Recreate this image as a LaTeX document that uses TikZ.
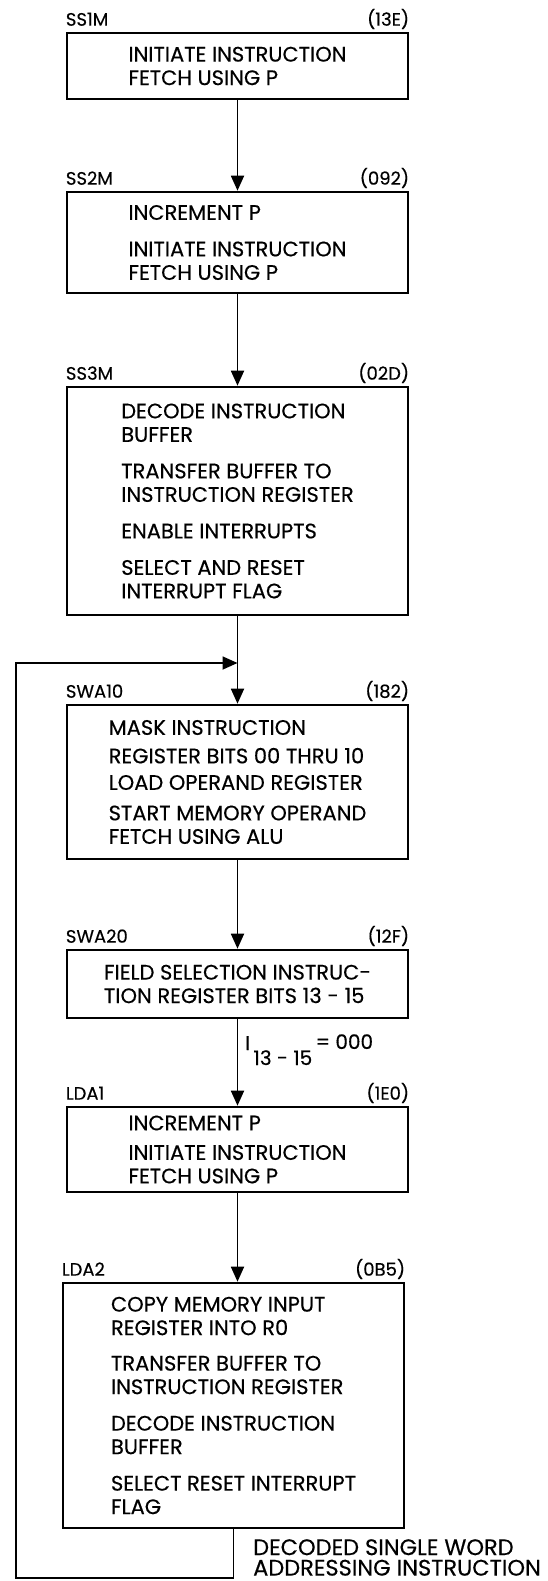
\documentclass[tikz,border=0pt]{standalone}
\usepackage{fontspec}
\setmainfont{Poppins}[FakeBold=0.35]
\usetikzlibrary{arrows.meta,positioning,calc}

\begin{document}
\begin{tikzpicture}[x=1pt, y=-1pt, >={Triangle[length=15pt,width=13pt]},
  stepbox/.style={draw,line width=2.6pt,minimum width=341pt,align=left,inner sep=0pt,
    font=\fontsize{21}{23.5}\selectfont},
  tag/.style={inner sep=0pt,yshift=6pt,font=\fontsize{18}{20}\selectfont},
  note/.style={inner sep=0pt,align=left,font=\fontsize{22.5}{20.5}\selectfont},
  flow/.style={->,line width=1.8pt}]
  \useasboundingbox (0,0) rectangle (548,1581);
  % microcode steps
  \node[stepbox,minimum height=66pt] (ss1m) at (237.5,66) {INITIATE INSTRUCTION\\FETCH USING P};
  \node[stepbox,minimum height=101pt] (ss2m) at (237.5,242.5) {INCREMENT P\\[13pt]INITIATE INSTRUCTION\\FETCH USING P};
  \node[stepbox,minimum height=228pt] (ss3m) at (237.5,501) {DECODE INSTRUCTION\\BUFFER\\[13pt]TRANSFER BUFFER TO\\INSTRUCTION REGISTER\\[13pt]ENABLE INTERRUPTS\\[13pt]SELECT AND RESET\\INTERRUPT FLAG};
  \node[stepbox,minimum height=154pt] (swa10) at (237.5,782) {MASK INSTRUCTION\\[5pt]REGISTER BITS 00 THRU 10\\[3pt]LOAD OPERAND REGISTER\\[7pt]START MEMORY OPERAND\\FETCH USING ALU};
  \node[stepbox,minimum height=68pt] (swa20) at (237.5,984) {FIELD SELECTION INSTRUC-\\TION REGISTER BITS 13 - 15};
  \node[stepbox,minimum height=85pt] (lda1) at (237.5,1149.5) {INCREMENT P\\[6pt]INITIATE INSTRUCTION\\FETCH USING P};
  \node[stepbox,minimum height=245pt] (lda2) at (233.5,1405.5) {COPY MEMORY INPUT\\REGISTER INTO R0\\[12pt]TRANSFER BUFFER TO\\INSTRUCTION REGISTER\\[13pt]DECODE INSTRUCTION\\BUFFER\\[13pt]SELECT RESET INTERRUPT\\FLAG};
  % step names and addresses
  \node[tag,anchor=base west] (ss1m-name) at (ss1m.north west) {SS1M};
  \node[tag,anchor=base east] (ss1m-addr) at (ss1m.north east) {(13E)};
  \node[tag,anchor=base west] (ss2m-name) at (ss2m.north west) {SS2M};
  \node[tag,anchor=base east] (ss2m-addr) at (ss2m.north east) {(092)};
  \node[tag,anchor=base west] (ss3m-name) at (ss3m.north west) {SS3M};
  \node[tag,anchor=base east] (ss3m-addr) at (ss3m.north east) {(02D)};
  \node[tag,anchor=base west] (swa10-name) at (swa10.north west) {SWA10};
  \node[tag,anchor=base east] (swa10-addr) at (swa10.north east) {(182)};
  \node[tag,anchor=base west] (swa20-name) at (swa20.north west) {SWA20};
  \node[tag,anchor=base east] (swa20-addr) at (swa20.north east) {(12F)};
  \node[tag,anchor=base west] (lda1-name) at (lda1.north west) {LDA1};
  \node[tag,anchor=base east] (lda1-addr) at (lda1.north east) {(1E0)};
  \node[tag,anchor=base west] (lda2-name) at (lda2.north west) {LDA2};
  \node[tag,anchor=base east] (lda2-addr) at (lda2.north east) {(0B5)};
  % flow
  \coordinate (merge) at (237.5,663);
  \coordinate (loopcorner) at (16,1578);
  \draw[flow] (ss1m) -- (ss2m);
  \draw[flow] (ss2m) -- (ss3m);
  \draw[flow] (ss3m) -- (swa10);
  \draw[flow] (swa10) -- (swa20);
  \draw[flow] (swa20) -- (lda1);
  \draw[flow] (lda1.south) -- (lda1.south |- lda2.north);
  \draw[flow] (lda2.south) -- (lda2.south |- loopcorner) -- (loopcorner) |- (merge);
  \node[note,anchor=base west,font=\fontsize{20}{20}\selectfont] (swa20-cond) at (245,1050)
    {I\,\raisebox{-15pt}{13 - 15}\,\raisebox{1pt}{= 000}};
  \node[note,anchor=north west] (exitnote) at (253,1539) {DECODED SINGLE WORD\\ADDRESSING INSTRUCTION};
\end{tikzpicture}
\end{document}
